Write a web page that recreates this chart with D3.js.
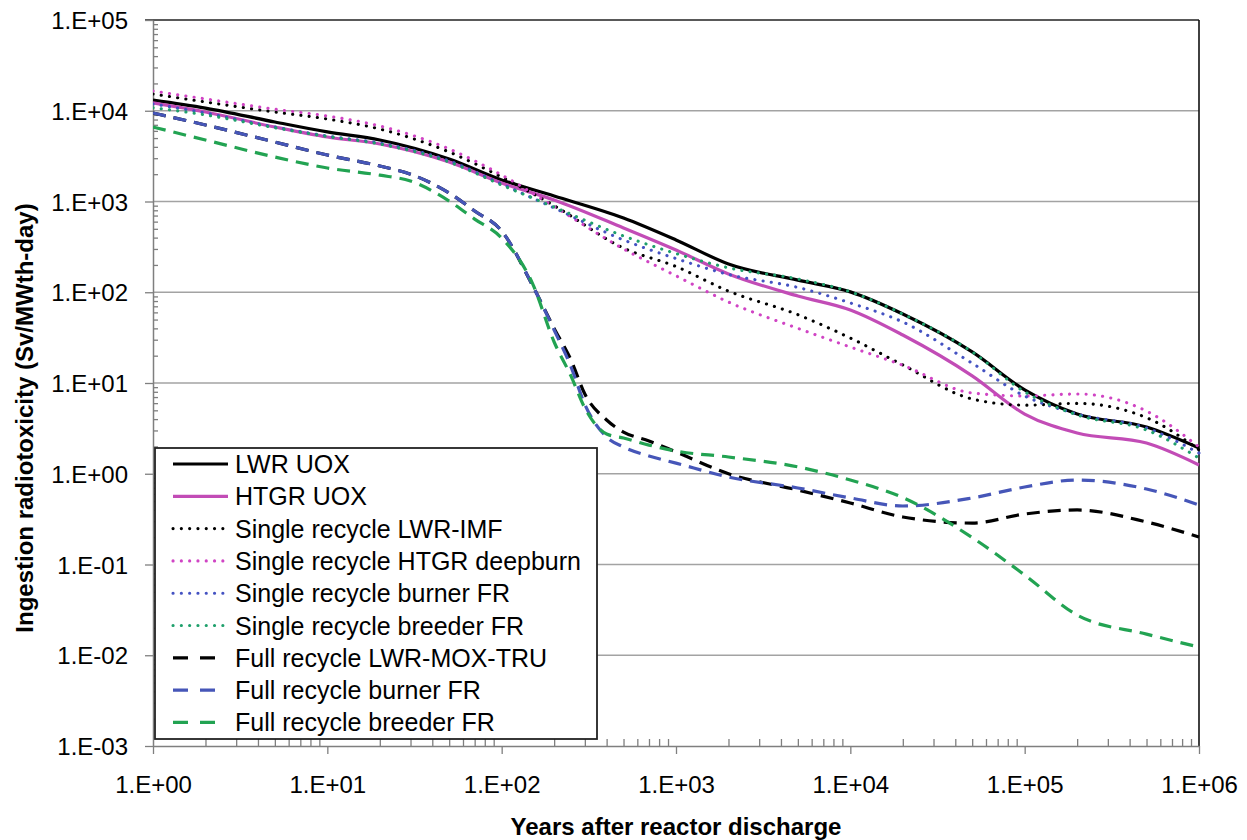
<!DOCTYPE html>
<html><head><meta charset="utf-8">
<script src="https://cdn.jsdelivr.net/npm/d3@7"></script>
<style>
body{margin:0;background:#fff}
svg{display:block}
text{font-family:"Liberation Sans",Arial,Helvetica,sans-serif;fill:#000}
</style>
</head><body>
<svg id="c" width="1247" height="840"></svg>
<script>
// ---- data (years after discharge, Sv/MWth-day) ----
const years = [1,2,5,10,20,50,100,200,500,1000,2000,5000,1e4,2e4,5e4,1e5,2e5,5e5,1e6];
const yearsFull = [1,2,5,10,20,30,50,70,100,150,200,250,300,400,500,700,1000,2000,5000,1e4,2e4,5e4,1e5,2e5,5e5,1e6];

const lwrUox   = [13100,10700,7520,5840,4760,2940,1730,1150,658,377,205,136,101,57.6,22,8.4,4.55,3.27,1.92];
const htgrUox  = [12200,9690,6620,5140,4300,2720,1600,1040,511,292,159,91,63.8,33.8,12,4.55,2.81,2.18,1.25];
const srLwrImf = [15300,12500,9680,8110,6290,3510,1860,900,307,192,103,56.6,31.3,15.8,6.67,5.7,5.96,4.15,1.83];
const srHtgrDb = [16500,13500,10400,8750,6790,3790,1960,880,300,152,78,40,24.9,15.7,7.76,7.2,7.57,4.91,1.97];
const srBurner = [11900,9450,6620,5270,4410,2800,1560,848,377,235,157,113,76.2,47,16.5,7.2,4.55,3.19,1.69];
const srBreeder= [10800,9000,6500,5200,4300,2720,1520,869,417,267,186,140,101,57.6,22,8.0,4.45,3.03,1.49];

const frLwrMox = [9450,6970,4520,3250,2460,2000,1240,786,473,120,40,17.9,7.57,3.91,2.88,2.3,1.74,1.0,0.662,0.476,0.334,0.286,0.36,0.399,0.294,0.201];
const frBurner = [9450,6970,4520,3250,2460,2000,1240,786,473,120,38.4,15,5.8,2.54,1.97,1.57,1.31,0.92,0.697,0.541,0.441,0.541,0.714,0.853,0.679,0.453];
const frBreeder= [6620,4760,3090,2340,1950,1680,1010,640,396,126,28.3,11.9,5.3,2.74,2.48,2.07,1.78,1.53,1.19,0.853,0.547,0.198,0.0766,0.0277,0.0171,0.0123];

const seriesNames = ["LWR UOX","HTGR UOX","Single recycle LWR-IMF","Single recycle HTGR deepburn",
  "Single recycle burner FR","Single recycle breeder FR","Full recycle LWR-MOX-TRU","Full recycle burner FR","Full recycle breeder FR"];
const xTickLabels = ["1.E+00","1.E+01","1.E+02","1.E+03","1.E+04","1.E+05","1.E+06"];
const yTickLabels = ["1.E-03","1.E-02","1.E-01","1.E+00","1.E+01","1.E+02","1.E+03","1.E+04","1.E+05"];
const xTitle = "Years after reactor discharge";
const yTitle = "Ingestion radiotoxicity (Sv/MWth-day)";

// ---- styles ----
const styles = [
  {c:"#000000", t:"solid"},
  {c:"#c24cb6", t:"solid"},
  {c:"#000000", t:"dot"},
  {c:"#d044c4", t:"dot"},
  {c:"#4452c2", t:"dot"},
  {c:"#1fa06c", t:"dot"},
  {c:"#000000", t:"dash"},
  {c:"#4656b8", t:"dash"},
  {c:"#22a352", t:"dash"}
];
const seriesData = [
  [years,lwrUox],[years,htgrUox],[years,srLwrImf],[years,srHtgrDb],[years,srBurner],[years,srBreeder],
  [yearsFull,frLwrMox],[yearsFull,frBurner],[yearsFull,frBreeder]
];

const L=153,R=1199,T=20,B=746;
const svg = d3.select("#c");
svg.append("rect").attr("width",1247).attr("height",840).attr("fill","#fff");
const x = d3.scaleLog().domain([1,1e6]).range([L,R]);
const y = d3.scaleLog().domain([1e-3,1e5]).range([B,T]);

const yMajor = d3.range(-3,6).map(e=>Math.pow(10,e));
const xMajor = d3.range(0,7).map(e=>Math.pow(10,e));
const yMinor = [], xMinor=[];
for(let e=-3;e<5;e++) for(let m=2;m<=9;m++) yMinor.push(m*Math.pow(10,e));
for(let e=0;e<6;e++) for(let m=2;m<=9;m++) xMinor.push(m*Math.pow(10,e));

// gridlines
svg.append("g").selectAll("line").data(yMajor.slice(1,-1)).join("line")
  .attr("x1",L).attr("x2",R).attr("y1",d=>y(d)).attr("y2",d=>y(d))
  .attr("stroke","#a3a3a3").attr("stroke-width",1.3);
// top & right border
svg.append("line").attr("x1",L-8).attr("x2",R).attr("y1",T).attr("y2",T).attr("stroke","#222").attr("stroke-width",1.5);
svg.append("line").attr("x1",R).attr("x2",R).attr("y1",T).attr("y2",B).attr("stroke","#111").attr("stroke-width",1.6);

// axes
const axCol="#7f7f7f";
function styleAxis(g){g.select(".domain").attr("stroke",axCol).attr("stroke-width",1.5);
  g.selectAll(".tick line").attr("stroke",axCol).attr("stroke-width",1.3);}
const yAx = svg.append("g").attr("transform",`translate(${L},0)`)
  .call(d3.axisLeft(y).tickValues(yMajor).tickSize(8).tickSizeOuter(0).tickPadding(17)
    .tickFormat((d,i)=>yTickLabels[i]));
styleAxis(yAx);
yAx.selectAll("text").attr("font-size",24).attr("font-family",'"Liberation Sans",Arial,sans-serif').attr("fill","#000").attr("dy","0.36em");
const yMin = svg.append("g").attr("transform",`translate(${L},0)`)
  .call(d3.axisRight(y).tickValues(yMinor).tickSize(5).tickSizeOuter(0).tickFormat(""));
styleAxis(yMin); yMin.select(".domain").remove();

const xAx = svg.append("g").attr("transform",`translate(0,${B})`)
  .call(d3.axisBottom(x).tickValues(xMajor).tickSize(8).tickSizeOuter(0).tickPadding(22)
    .tickFormat((d,i)=>xTickLabels[i]));
styleAxis(xAx);
xAx.selectAll("text").attr("font-size",24).attr("font-family",'"Liberation Sans",Arial,sans-serif').attr("fill","#000");
const xMin = svg.append("g").attr("transform",`translate(0,${B})`)
  .call(d3.axisTop(x).tickValues(xMinor).tickSize(7).tickSizeOuter(0).tickFormat(""));
styleAxis(xMin); xMin.select(".domain").remove();

// clip
svg.append("clipPath").attr("id","pc").append("rect").attr("x",L).attr("y",T).attr("width",R-L+2).attr("height",B-T);

const line = d3.line().curve(d3.curveMonotoneX);
function applyStyle(sel,s,legend){
  sel.attr("fill","none").attr("stroke",s.c);
  if(s.t==="solid") sel.attr("stroke-width",3.2);
  else if(s.t==="dot") sel.attr("stroke-width",3.1).attr("stroke-linecap","round").attr("stroke-dasharray","0.1 8.2");
  else sel.attr("stroke-width",3.2).attr("stroke-dasharray",legend?"15 12":"13 8");
}
const plot = svg.append("g").attr("clip-path","url(#pc)");
seriesData.forEach(([xs,vs],i)=>{
  const pts = xs.map((t,k)=>[x(t),y(vs[k])]);
  applyStyle(plot.append("path").attr("d",line(pts)),styles[i],false);
});

// legend
const lg = svg.append("g");
lg.append("rect").attr("x",155).attr("y",448).attr("width",442).attr("height",291)
  .attr("fill","#fff").attr("stroke","#222").attr("stroke-width",1.8);
seriesNames.forEach((n,i)=>{
  const cy = 464 + 32.3*i;
  const s = styles[i];
  const x2 = s.t==="dash"?215:(s.t==="dot"?223:228);
  applyStyle(lg.append("line").attr("x1",173).attr("x2",x2).attr("y1",cy).attr("y2",cy),s,true);
  lg.append("text").attr("x",235).attr("y",cy+9).attr("font-size",25).text(n);
});

// titles
svg.append("text").attr("x",676).attr("y",835).attr("text-anchor","middle")
  .attr("font-size",24).attr("font-weight","bold").text(xTitle);
svg.append("text").attr("transform","translate(33,418) rotate(-90)").attr("text-anchor","middle")
  .attr("font-size",24).attr("font-weight","bold").text(yTitle);
</script>
</body></html>
